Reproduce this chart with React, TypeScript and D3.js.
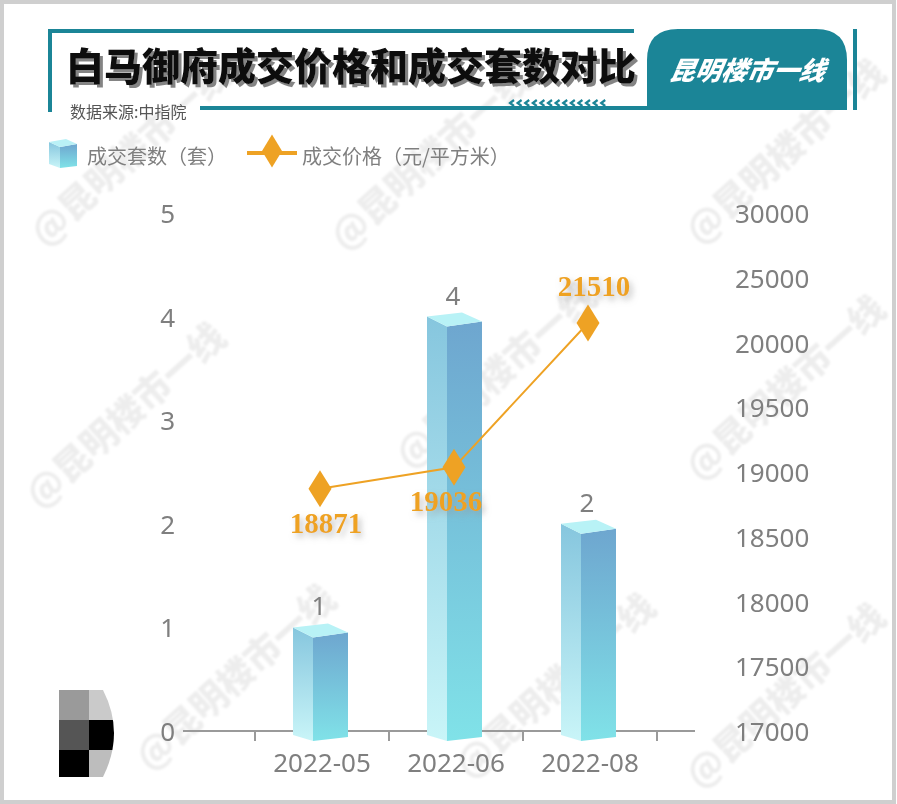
import React from "react";
import * as d3 from "d3";

const categories = ["2022-05", "2022-06", "2022-08"];
const counts = [1, 4, 2];
const prices = [18871, 19036, 21510];
const countTicks = [0, 1, 2, 3, 4, 5];
const priceTicks = [17000, 17500, 18000, 18500, 19000, 19500, 20000, 25000, 30000];
const watermarks = [
  [45, 248], [345, 252], [700, 246],
  [40, 510], [410, 470], [700, 482],
  [150, 772], [470, 780], [700, 790],
];

const W = 897;
const H = 804;
const TEAL = "#1b8597";
const ORANGE = "#eea224";
const GRAY = "#7f7f7f";
const CJK = "'Noto Sans CJK SC', 'Noto Sans', sans-serif";
const NUM = "'Noto Sans', 'Open Sans', sans-serif";

export default function App() {
  const y0 = 731;
  const yTop = 213;
  const yLeft = d3.scaleLinear().domain([0, 5]).range([y0, yTop]);
  const idx = d3.scaleLinear().domain([0, priceTicks.length - 1]).range([y0, yTop]);
  const yRight = d3
    .scaleLinear()
    .domain(priceTicks)
    .range(priceTicks.map((_, i) => idx(i)));
  const x = d3.scaleBand().domain(categories).range([255, 657]);
  const cx = (c: string) => (x(c) as number) + x.bandwidth() / 2;

  const line = d3
    .line<number>()
    .x((_, i) => cx(categories[i]) - 2)
    .y((d) => yRight(d));

  const tickXs = [...categories.map((c) => x(c) as number), (x(categories[2]) as number) + x.bandwidth()];

  const barPaths = counts.map((v, i) => {
    const c = cx(categories[i]);
    const yt = yLeft(v);
    const L = c - 29, M = c - 9, R = c + 26;
    const left = `M${L},${yt} L${M},${yt + 10} L${M},${y0 + 10} L${L},${y0 + 4} Z`;
    const right = `M${M},${yt + 10} L${R},${yt + 5} L${R},${y0 + 6} L${M},${y0 + 10} Z`;
    const top = `M${L},${yt} L${L + 35},${yt - 4} L${R},${yt + 5} L${M},${yt + 10} Z`;
    return { left, right, top, c, yt, v };
  });

  const diamond = (px: number, py: number, w: number, h: number) =>
    `M${px},${py - h / 2} L${px + w / 2},${py} L${px},${py + h / 2} L${px - w / 2},${py} Z`;

  const chevrons = d3.range(13).map((i) => {
    const sx = 510 + i * 7.6;
    return `M${sx + 4},${100} L${sx},${103} L${sx + 4},${106}`;
  });

  return (
    <div style={{ position: "absolute", left: 0, top: 0 }}>
      <svg width={W} height={H} viewBox={`0 0 ${W} ${H}`} style={{ display: "block" }}>
        <defs>
          <linearGradient id="gLeft" x1="0" y1="0" x2="0" y2="1">
            <stop offset="0" stopColor="#86c6de" />
            <stop offset="1" stopColor="#c9f5f8" />
          </linearGradient>
          <linearGradient id="gRight" x1="0" y1="0" x2="0" y2="1">
            <stop offset="0" stopColor="#6ea6cf" />
            <stop offset="1" stopColor="#80e2e8" />
          </linearGradient>
          <filter id="tshadow" x="-10%" y="-10%" width="130%" height="140%">
            <feDropShadow dx="3" dy="3" stdDeviation="0.6" floodColor="#777" floodOpacity="0.9" />
          </filter>
          <filter id="lshadow" x="-20%" y="-20%" width="150%" height="170%">
            <feDropShadow dx="3" dy="4" stdDeviation="3" floodColor="#999" floodOpacity="0.6" />
          </filter>
          <filter id="wblur">
            <feGaussianBlur stdDeviation="0.8" />
          </filter>
          <clipPath id="mosaicClip">
            <path d="M59,690 L103,690 Q125,733 103,777 L59,777 Z" />
          </clipPath>
        </defs>

        <rect x={0} y={0} width={W} height={H} fill="#fff" />

        {/* watermarks */}
        <g filter="url(#wblur)">
          {watermarks.map(([wx, wy], i) => (
            <text
              key={i}
              x={wx}
              y={wy}
              transform={`rotate(-42 ${wx} ${wy})`}
              fontFamily={CJK}
              fontWeight={800}
              fontSize={36}
              fill="#000"
              fillOpacity={0.07}
            >
              @昆明楼市一线
            </text>
          ))}
        </g>

        {/* outer frame */}
        <rect x={2} y={2} width={W - 5} height={H - 4} fill="none" stroke="#cfcfcf" strokeWidth={4} />

        {/* header frame */}
        <line x1={48} y1={31} x2={634} y2={31} stroke={TEAL} strokeWidth={4} />
        <line x1={50} y1={29} x2={50} y2={112} stroke={TEAL} strokeWidth={4} />
        <line x1={200} y1={108} x2={650} y2={108} stroke={TEAL} strokeWidth={4} />
        <path d="M647,110 L647,60 Q647,29 678,29 L816,29 Q847,29 847,60 L847,110 Z" fill={TEAL} />
        <line x1={855} y1={29} x2={855} y2={110} stroke={TEAL} strokeWidth={4} />
        {chevrons.map((d, i) => (
          <path key={i} d={d} fill="none" stroke={TEAL} strokeWidth={2.2} />
        ))}
        <text
          x={747}
          y={80}
          textAnchor="middle"
          fontFamily={CJK}
          fontWeight={900}
          fontStyle="italic"
          fontSize={26}
          fill="#fff"
          transform="skewX(-10) translate(13,0)"
        >
          昆明楼市一线
        </text>
        <text x={66} y={80} fontFamily={CJK} fontWeight={900} fontSize={38} fill="#111" filter="url(#tshadow)">
          白马御府成交价格和成交套数对比
        </text>
        <text x={70} y={118} fontFamily={CJK} fontSize={16} fill="#555">
          数据来源:中指院
        </text>

        {/* legend */}
        <g>
          <path d="M49,142 L60,147 L60,168 L49,164 Z" fill="url(#gLeft)" />
          <path d="M60,147 L77,144 L77,166 L60,168 Z" fill="url(#gRight)" />
          <path d="M49,142 L66,139 L77,144 L60,147 Z" fill="#b9f1f6" />
          <text x={87} y={164} fontFamily={CJK} fontSize={20} fill={GRAY}>
            成交套数（套）
          </text>
          <line x1={247} y1={153} x2={297} y2={153} stroke={ORANGE} strokeWidth={4} />
          <path d={diamond(272, 151, 20, 33)} fill={ORANGE} />
          <text x={302} y={164} fontFamily={CJK} fontSize={20} fill={GRAY}>
            成交价格（元/平方米）
          </text>
        </g>

        {/* left axis labels */}
        {countTicks.map((t) => (
          <text key={t} x={175} y={yLeft(t) + 10} textAnchor="end" fontFamily={NUM} fontSize={26} fill={GRAY}>
            {t}
          </text>
        ))}
        {/* right axis labels */}
        {priceTicks.map((t) => (
          <text key={t} x={735} y={yRight(t) + 10} fontFamily={NUM} fontSize={26} fill={GRAY}>
            {t}
          </text>
        ))}

        {/* x axis */}
        <line x1={183} y1={y0} x2={695} y2={y0} stroke="#9a9a9a" strokeWidth={2} />
        {tickXs.map((tx, i) => (
          <line key={i} x1={tx} y1={y0} x2={tx} y2={y0 + 10} stroke="#9a9a9a" strokeWidth={2} />
        ))}
        {categories.map((c) => (
          <text key={c} x={cx(c)} y={772} textAnchor="middle" fontFamily={NUM} fontSize={26} fill={GRAY}>
            {c}
          </text>
        ))}

        {/* bars */}
        {barPaths.map((b, i) => (
          <g key={i}>
            <path d={b.left} fill="url(#gLeft)" />
            <path d={b.right} fill="url(#gRight)" />
            <path d={b.top} fill="#b8f2f6" />
            <text x={b.c - 3} y={b.yt - 12} textAnchor="middle" fontFamily={NUM} fontSize={26} fill={GRAY}>
              {b.v}
            </text>
          </g>
        ))}

        {/* price line */}
        <path d={line(prices) || ""} fill="none" stroke={ORANGE} strokeWidth={2} />
        {prices.map((p, i) => {
          const px = cx(categories[i]) - 2;
          const py = yRight(p);
          const above = i === prices.length - 1;
          return (
            <g key={i}>
              <path d={diamond(px, py, 23, 37)} fill={ORANGE} />
              <text
                x={px + (i === 1 ? -8 : 6)}
                y={above ? py - 27 : py + 44}
                textAnchor="middle"
                fontFamily="'Liberation Serif', serif"
                fontWeight={700}
                fontSize={29}
                fill={ORANGE}
                filter="url(#lshadow)"
              >
                {p}
              </text>
            </g>
          );
        })}

        {/* mosaic artifact */}
        <g clipPath="url(#mosaicClip)">
          <rect x={59} y={690} width={30} height={30} fill="#9a9a9a" />
          <rect x={89} y={690} width={36} height={30} fill="#cacaca" />
          <rect x={59} y={720} width={30} height={30} fill="#555" />
          <rect x={89} y={720} width={36} height={30} fill="#000" />
          <rect x={59} y={750} width={30} height={27} fill="#000" />
          <rect x={89} y={750} width={36} height={27} fill="#bdbdbd" />
        </g>
      </svg>
    </div>
  );
}
